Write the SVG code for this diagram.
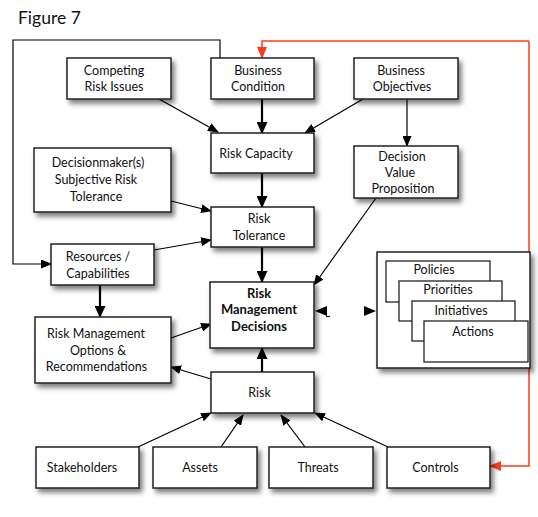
<svg xmlns="http://www.w3.org/2000/svg" width="538" height="517" viewBox="0 0 538 517">
<defs>
<filter id="sh" x="-20%" y="-20%" width="150%" height="160%">
<feDropShadow dx="3" dy="4" stdDeviation="2.8" flood-color="#000" flood-opacity="0.5"/>
</filter>
<marker id="a" markerUnits="userSpaceOnUse" markerWidth="11" markerHeight="9" refX="10" refY="4.5" orient="auto" viewBox="0 0 11 9">
<path d="M0,0 L11,4.5 L0,9 z" fill="#000"/>
</marker>
<marker id="ab" markerUnits="userSpaceOnUse" markerWidth="12" markerHeight="11" refX="11" refY="5.5" orient="auto" viewBox="0 0 12 11">
<path d="M0,0 L12,5.5 L0,11 z" fill="#000"/>
</marker>
<marker id="ar" markerUnits="userSpaceOnUse" markerWidth="12" markerHeight="10" refX="11" refY="5" orient="auto" viewBox="0 0 12 10">
<path d="M0,0 L12,5 L0,10 z" fill="#ff3b1a"/>
</marker>
</defs>
<style>
.b{fill:#fff;stroke:#222;stroke-width:1.5;filter:url(#sh)}
.i{fill:#fff;stroke:#222;stroke-width:1.3}
text{font-family:Lato,"Liberation Sans",sans-serif;font-size:12.5px;fill:#111;text-anchor:middle}
.bo{font-weight:bold;font-size:13px}
.t{stroke:#000;stroke-width:1.2;fill:none;marker-end:url(#a)}
.k{stroke:#000;stroke-width:2.2;fill:none;marker-end:url(#ab)}
.r{stroke:#ff3b1a;stroke-width:1.5;fill:none;marker-end:url(#ar)}
</style>
<rect width="538" height="517" fill="#fff"/>
<text x="18" y="24" style="font-size:17.5px;text-anchor:start">Figure 7</text>

<g id="connectors">
<path class="t" d="M220,58 L220,40 L13,40 L13,264 L51,264"/>
<path class="r" d="M529,41 L262,41 L262,58"/>
<path class="r" d="M529,41 L529,466 L490,466"/>
<path class="t" d="M159,99 L218,132"/>
<path class="t" d="M363,99 L305,133"/>
<path class="t" d="M407,99 L407,146"/>
<path class="t" d="M171,201 L211,211"/>
<path class="t" d="M154,250 L211,240"/>
<path class="t" d="M376,198 L314,285"/>
<path class="t" d="M171,338 L211,324"/>
<path class="t" d="M211,379 L171,367"/>
<path class="t" d="M138,447 L211,413"/>
<path class="t" d="M221,447 L243,415"/>
<path class="t" d="M305,447 L281,415"/>
<path class="t" d="M388,447 L315,413"/>
<path class="k" d="M262,99 L262,133"/>
<path class="k" d="M262,173 L262,207"/>
<path class="k" d="M262,247 L262,282"/>
<path class="k" d="M100,285 L100,317"/>
<path class="k" d="M262,372 L262,348"/>
<path d="M315,311 L327,306 L327,316 z" fill="#000"/>
<path d="M326,316.5 L330,316.5" stroke="#000" stroke-width="1"/>
<path d="M376,311 L364,306 L364,316 z" fill="#000"/>
</g>

<g id="competing">
<rect class="b" x="67" y="58" width="104" height="41"/>
<text x="114" y="74.5">Competing</text>
<text x="114" y="90.5">Risk Issues</text>
</g>
<g id="business-condition">
<rect class="b" x="211" y="58" width="103" height="41"/>
<text x="258" y="74.5">Business</text>
<text x="258" y="90.5">Condition</text>
</g>
<g id="business-objectives">
<rect class="b" x="354" y="58" width="104" height="41"/>
<text x="401" y="74.5">Business</text>
<text x="402" y="90.5">Objectives</text>
</g>
<g id="risk-capacity">
<rect class="b" x="211" y="133" width="103" height="40"/>
<text x="256" y="157.5">Risk Capacity</text>
</g>
<g id="decision-value">
<rect class="b" x="354" y="146" width="104" height="52"/>
<text x="402" y="160.5">Decision</text>
<text x="400" y="177">Value</text>
<text x="403" y="193">Proposition</text>
</g>
<g id="decisionmaker">
<rect class="b" x="34" y="148" width="137" height="64"/>
<text x="98" y="167">Decisionmaker(s)</text>
<text x="96" y="184">Subjective Risk</text>
<text x="96" y="201">Tolerance</text>
</g>
<g id="risk-tolerance">
<rect class="b" x="211" y="207" width="103" height="40"/>
<text x="259" y="222.5">Risk</text>
<text x="259" y="239.5">Tolerance</text>
</g>
<g id="resources">
<rect class="b" x="51" y="244" width="103" height="41"/>
<text x="98" y="260.5">Resources /</text>
<text x="98" y="277.5">Capabilities</text>
</g>
<g id="rm-decisions">
<rect class="b" x="210" y="282" width="104" height="66"/>
<text class="bo" x="259" y="297.5">Risk</text>
<text class="bo" x="259" y="314">Management</text>
<text class="bo" x="259" y="330.5">Decisions</text>
</g>
<g id="rm-options">
<rect class="b" x="35" y="317" width="136" height="66"/>
<text x="96" y="337.5">Risk Management</text>
<text x="98" y="354.5">Options &amp;</text>
<text x="96.5" y="371">Recommendations</text>
</g>
<g id="risk">
<rect class="b" x="211" y="372" width="103" height="41"/>
<text x="259.5" y="396.5">Risk</text>
</g>
<g id="stakeholders">
<rect class="b" x="36" y="447" width="103" height="41"/>
<text x="82" y="471.5">Stakeholders</text>
</g>
<g id="assets">
<rect class="b" x="153" y="447" width="104" height="41"/>
<text x="200" y="471.5">Assets</text>
</g>
<g id="threats">
<rect class="b" x="269" y="447" width="104" height="41"/>
<text x="318" y="471.5">Threats</text>
</g>
<g id="controls">
<rect class="b" x="387" y="447" width="103" height="41"/>
<text x="435.5" y="471.5">Controls</text>
</g>
<g id="actions-group">
<rect class="b" x="377" y="252" width="153" height="116"/>
<g id="policies"><rect class="i" x="386" y="261" width="104" height="41"/><text x="434" y="273.5">Policies</text></g>
<g id="priorities"><rect class="i" x="399" y="281" width="103" height="40"/><text x="448" y="293.5">Priorities</text></g>
<g id="initiatives"><rect class="i" x="412" y="301" width="103" height="40"/><text x="461" y="314.5">Initiatives</text></g>
<g id="actions"><rect class="i" x="424" y="321" width="104" height="41"/><text x="473" y="335.5">Actions</text></g>
</g>
</svg>
